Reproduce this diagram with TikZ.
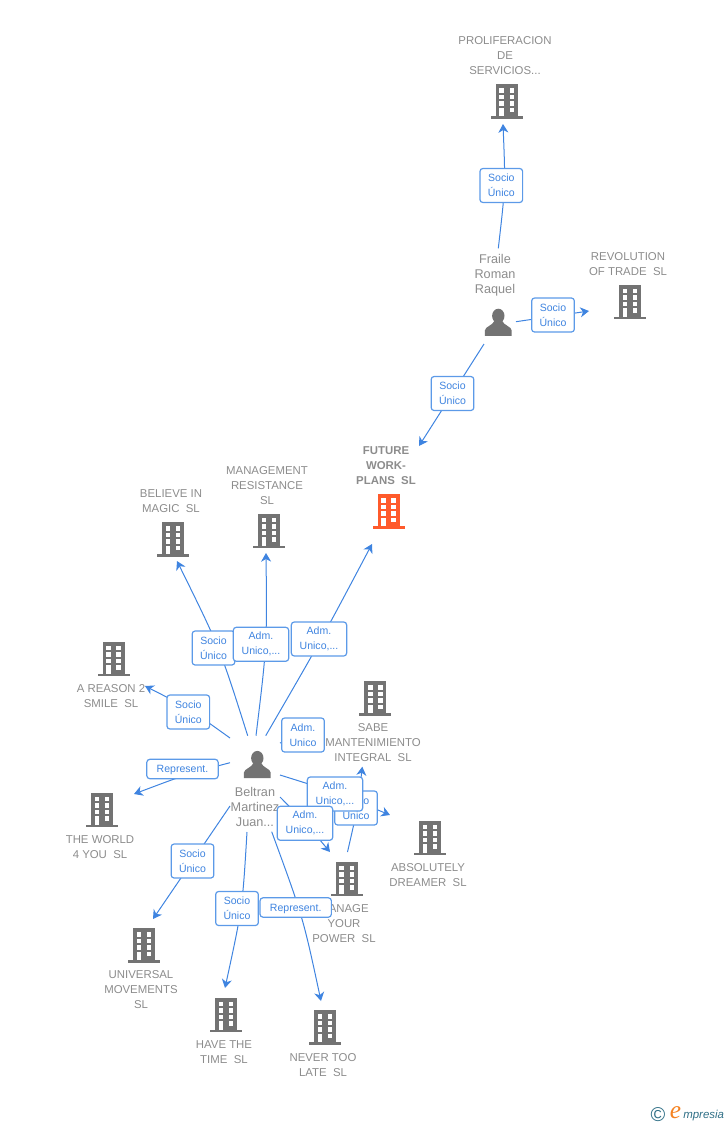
\documentclass[tikz,border=0pt]{standalone}
\usepackage{fontspec}
\setmainfont{Liberation Sans}
\newfontfamily\logofont{Liberation Serif}
\usetikzlibrary{calc,arrows.meta,backgrounds}
\definecolor{linkblue}{HTML}{3F84E0}
\definecolor{boxblue}{HTML}{5C9AE8}
\definecolor{iconGray}{HTML}{737373}
\definecolor{labelGray}{HTML}{8C8C8C}
\definecolor{mainRed}{HTML}{FF5A2B}
\definecolor{logoTeal}{HTML}{2F6F86}
\definecolor{logoOrange}{HTML}{F58220}
\newcommand{\firmicon}[1]{%
  \tikz[x=0.75pt,y=-0.75pt]{
    \fill [#1] (-11, -17) rectangle (11, 15);
    \fill [#1] (-16, 15) rectangle (16, 17.5);
    \foreach \yy in {-13, -6.5, 0}
      \foreach \xx in {-7.4, 2.8}
        \fill [white] (\xx, \yy) rectangle ++(4.6, 4.4);
    \fill [white] (-7.4, 6.5) rectangle (-2.8, 15);
    \fill [white] (2.8, 6.5) rectangle ++(4.6, 4.4);
  }}
\newcommand{\personicon}{%
  \tikz[x=0.75pt,y=-0.75pt]{
    \fill [iconGray] (0, -6.5) ellipse [x radius=6.2, y radius=7.2];
    \fill [iconGray] (-13.4, 13.5) -- (-13.4, 8) .. controls (-13, 4) and (-6, 3.5) .. (-3.5, -2)
      -- (3.5, -2) .. controls (6, 3.5) and (13, 4) .. (13.4, 8) -- (13.4, 13.5) -- cycle;
  }}
\tikzset{
  firm/.style={inner sep=0pt, outer sep=0pt},
  firmtext/.style={align=center, text=labelGray, font=\fontsize{8.55}{11.25}\selectfont, inner sep=0pt},
  persontext/.style={firmtext, font=\fontsize{9.5}{11.25}\selectfont},
  role/.style={draw=boxblue, line width=0.9pt, rounded corners=2.2pt, fill=white, text=linkblue,
    align=center, font=\fontsize{7.9}{11.25}\selectfont, inner sep=0pt, minimum height=25.5pt, minimum width=32pt,
    execute at begin node={\rule{0pt}{7.5pt}}},
  rolewide/.style={role, minimum width=41.5pt},
  roleflat/.style={role, minimum width=53.5pt, minimum height=14.5pt},
  link/.style={draw=linkblue, line width=0.75pt},
  linkto/.style={link, -{Stealth[length=6.5pt, width=7.5pt, inset=2pt]}},
}
\begin{document}
\begin{tikzpicture}[x=0.75pt, y=-0.75pt]
  \useasboundingbox (0, 0) rectangle (728, 1125);
  % people
  \node [firm] (beltran) at (257.3, 764.5) {\personicon};
  \node [firm] (fraile) at (498.3, 322.3) {\personicon};
  \node [persontext] (beltranname) at (255, 807) {Beltran\\Martinez\\Juan...};
  \node [persontext] (frailename) at (495, 275.5) {Fraile\\Roman\\Raquel};
  % companies
  \node [firm] (prolif) at (506.7, 101.5) {\firmicon{iconGray}};
  \node [firm] (revol) at (630, 302) {\firmicon{iconGray}};
  \node [firm] (future) at (388.5, 511.5) {\firmicon{mainRed}};
  \node [firm] (mgmt) at (269, 531) {\firmicon{iconGray}};
  \node [firm] (believe) at (173, 539.5) {\firmicon{iconGray}};
  \node [firm] (reason) at (113.5, 659) {\firmicon{iconGray}};
  \node [firm] (sabe) at (375.3, 698.7) {\firmicon{iconGray}};
  \node [firm] (dreamer) at (430, 838) {\firmicon{iconGray}};
  \node [firm] (manage) at (346.7, 879) {\firmicon{iconGray}};
  \node [firm] (world) at (102, 810) {\firmicon{iconGray}};
  \node [firm] (universal) at (144, 945.5) {\firmicon{iconGray}};
  \node [firm] (havetime) at (226, 1015) {\firmicon{iconGray}};
  \node [firm] (toolate) at (325, 1027.5) {\firmicon{iconGray}};
  \node [firmtext] (prolifname) at (505, 55.7) {PROLIFERACION\\DE\\SERVICIOS...};
  \node [firmtext] (revolname) at (628, 264.2) {REVOLUTION\\OF TRADE~~SL};
  \node [firmtext, font=\fontsize{8.55}{11.25}\selectfont\bfseries] (futurename) at (386, 465.7) {FUTURE\\WORK-\\PLANS~~SL};
  \node [firmtext] (mgmtname) at (267, 485.7) {MANAGEMENT\\RESISTANCE\\SL};
  \node [firmtext] (believename) at (171, 501.2) {BELIEVE IN\\MAGIC~~SL};
  \node [firmtext] (reasonname) at (111, 696.2) {A REASON 2\\SMILE~~SL};
  \node [firmtext] (sabename) at (373, 742.7) {SABE\\MANTENIMIENTO\\INTEGRAL~~SL};
  \node [firmtext] (dreamername) at (428, 875.2) {ABSOLUTELY\\DREAMER~~SL};
  \node [firmtext] (managename) at (344, 923.7) {MANAGE\\YOUR\\POWER~~SL};
  \node [firmtext] (worldname) at (100, 847.2) {THE WORLD\\4 YOU~~SL};
  \node [firmtext] (universalname) at (141, 989.7) {UNIVERSAL\\MOVEMENTS\\SL};
  \node [firmtext] (havetimename) at (224, 1052.2) {HAVE THE\\TIME~~SL};
  \node [firmtext] (toolatename) at (323, 1065.2) {NEVER TOO\\LATE~~SL};
  % roles
  \node [role] (roleprolif) at (501.3, 185.5) {Socio\\Único};
  \node [role] (rolerevol) at (553, 315) {Socio\\Único};
  \node [role] (rolefraile) at (452.5, 393.5) {Socio\\Único};
  \node [role] (rolebelieve) at (213.5, 648) {Socio\\Único};
  \node [rolewide] (rolemgmt) at (261, 644.3) {Adm.\\Unico,...};
  \node [rolewide] (rolefuture) at (319, 639) {Adm.\\Unico,...};
  \node [role] (rolereason) at (188.3, 712) {Socio\\Único};
  \node [role] (rolesabe) at (303, 735) {Adm.\\Unico};
  \node [role] (rolemanage) at (356, 808) {Socio\\Único};
  \node [rolewide] (roledreamer) at (335, 794) {Adm.\\Unico,...};
  \node [rolewide] (rolebeltran) at (305, 823.3) {Adm.\\Unico,...};
  \node [roleflat] (roleworld) at (182.5, 769) {Represent.};
  \node [role] (roleuniversal) at (192.5, 861) {Socio\\Único};
  \node [role] (rolehavetime) at (237, 908.5) {Socio\\Único};
  \node [roleflat] (roletoolate) at (295.7, 907.5) {Represent.};
  % logo
  \node [inner sep=0pt, text=logoTeal, font=\fontsize{15}{15}\selectfont] (logomark) at (658, 1114.5) {©};
  \node [inner sep=0pt, anchor=base west, text=logoOrange, font=\logofont\itshape\fontsize{19}{19}\selectfont] (logoe) at (669.5, 1118) {e};
  \node [inner sep=0pt, anchor=base west, text=logoTeal, font=\itshape\fontsize{8.6}{9}\selectfont] (logoname) at (683, 1118) {mpresia};
  % links
  \begin{scope}[on background layer]
    \draw [linkto] ($(fraile)+(0, -74)$) .. controls (505.5, 186) .. ($(prolif)+(-3.7, 22.5)$);
    \draw [linkto] ($(fraile)+(17.7, -0.6)$) -- ($(revol)+(-41, 9)$);
    \draw [linkto] ($(fraile)+(-14.3, 21.7)$) -- ($(future)+(30.5, -65.5)$);
    \draw [linkto] ($(beltran)+(-9.6, -28.8)$) .. controls (219.9, 647.9) .. ($(believe)+(4, 21.5)$);
    \draw [linkto] ($(beltran)+(-1.3, -28.8)$) .. controls (267, 645.2) .. ($(mgmt)+(-3, 22)$);
    \draw [linkto] ($(beltran)+(8.4, -28.8)$) .. controls (321.2, 640) .. ($(future)+(-16.5, 32.5)$);
    \draw [linkto] ($(beltran)+(-27.3, -26.5)$) .. controls (188.2, 708) .. ($(reason)+(31.5, 27)$);
    \draw [linkto] ($(beltran)+(-27.3, -1.8)$) .. controls (187.3, 773.9) .. ($(world)+(32, -16)$);
    \draw [linkto] ($(beltran)+(-27.3, 41.5)$) -- ($(universal)+(9, -26.5)$);
    \draw [linkto] ($(beltran)+(-10.3, 67.5)$) .. controls (242.5, 907.3) .. ($(havetime)+(-1, -27)$);
    \draw [linkto] ($(beltran)+(14.4, 67.2)$) .. controls (303, 917.2) .. ($(toolate)+(-4, -26.5)$);
    \draw [linkto] ($(beltran)+(22.7, 10.5)$) .. controls (335.3, 792.3) .. ($(dreamer)+(-40, -23)$);
    \draw [linkto] ($(beltran)+(22.7, 32.5)$) .. controls (305.2, 822.5) .. ($(manage)+(-16.7, -27)$);
    \draw [linkto] ($(manage)+(0.8, -27)$) .. controls (357.7, 807.6) .. ($(sabe)+(-13, 68)$);
    \draw [link] ($(beltran)+(22.7, -21.5)$) -- (rolesabe);
  \end{scope}
\end{tikzpicture}
\end{document}
